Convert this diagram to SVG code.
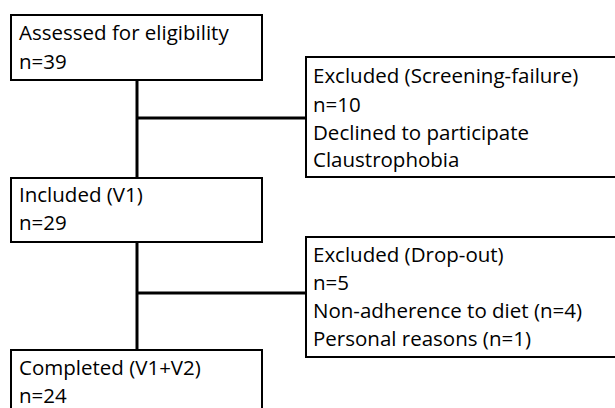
<svg xmlns="http://www.w3.org/2000/svg" width="615" height="408" viewBox="0 0 615 408">
<style>
.box{fill:#fff;stroke:#000;stroke-width:2}
.t{font-family:"Open Sans","Liberation Sans",Arial,sans-serif;font-size:20.5px;fill:#000}
.c{stroke:#000;stroke-width:3;fill:none}
</style>
<rect width="615" height="408" fill="#fff"/>
<g id="connectors">
<line class="c" x1="137" y1="80" x2="137" y2="178"/>
<line class="c" x1="137" y1="118" x2="306" y2="118"/>
<line class="c" x1="137" y1="242" x2="137" y2="350"/>
<line class="c" x1="137" y1="293" x2="306" y2="293"/>
</g>
<g id="assessed">
<rect class="box" x="11" y="15" width="251" height="65"/>
<text class="t" x="19" y="40">Assessed for eligibility</text>
<text class="t" x="19" y="69">n=39</text>
</g>
<g id="excluded1">
<rect class="box" x="306" y="57" width="312" height="120"/>
<text class="t" x="313" y="83">Excluded (Screening-failure)</text>
<text class="t" x="313" y="112">n=10</text>
<text class="t" x="313" y="140">Declined to participate</text>
<text class="t" x="313" y="167">Claustrophobia</text>
</g>
<g id="included">
<rect class="box" x="11" y="178" width="251" height="64"/>
<text class="t" x="19" y="202">Included (V1)</text>
<text class="t" x="19" y="230">n=29</text>
</g>
<g id="excluded2">
<rect class="box" x="306" y="237" width="312" height="120"/>
<text class="t" x="313" y="262">Excluded (Drop-out)</text>
<text class="t" x="313" y="290">n=5</text>
<text class="t" x="313" y="318">Non-adherence to diet (n=4)</text>
<text class="t" x="313" y="346">Personal reasons (n=1)</text>
</g>
<g id="completed">
<rect class="box" x="11" y="350" width="251" height="70"/>
<text class="t" x="19" y="375">Completed (V1+V2)</text>
<text class="t" x="19" y="403">n=24</text>
</g>
</svg>
